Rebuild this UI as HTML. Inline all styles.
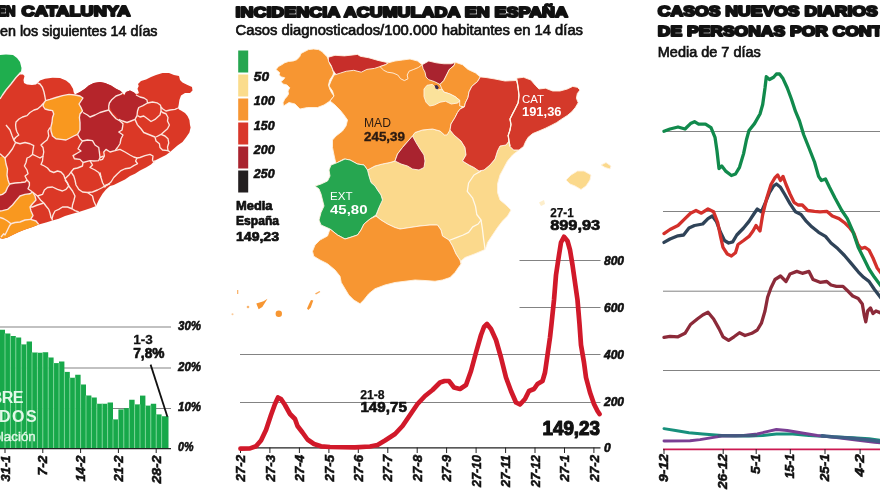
<!DOCTYPE html>
<html lang="es"><head><meta charset="utf-8"><title>Incidencia acumulada</title>
<style>
html,body{margin:0;padding:0;background:#fff;}
body{width:880px;height:495px;overflow:hidden;}
svg{display:block;font-family:"Liberation Sans",sans-serif;}
.t{font-weight:bold;fill:#111;stroke:#111;stroke-width:2.05px;stroke-linejoin:round;}
.s{fill:#111;stroke:#111;stroke-width:.65px;}
.ax{font-weight:bold;font-style:italic;fill:#111;stroke:#111;stroke-width:.6px;}
.xl{font-weight:bold;font-style:italic;fill:#111;stroke:#111;stroke-width:.55px;}
.b{font-weight:bold;}
.h{fill:#111;stroke:#111;stroke-width:.7px;stroke-linejoin:round;}
.wl{fill:none;stroke:#fce6de;stroke-width:1.35;stroke-linejoin:round;}
.wl2{fill:none;stroke:#fff8ea;stroke-width:1.3;stroke-linejoin:round;}
</style></head><body>
<svg width="880" height="495" viewBox="0 0 880 495">
<rect width="880" height="495" fill="#fff"/>

<g id="cat">
<polygon fill="#1fae4e" points="0,55 6,54.5 13,55 17,58 20,62 21.5,68 21,72 16,77.5 11,84 6,90 2.5,95 0,99"/>
<polygon fill="#db3826" points="0,99 2.5,95 6,90 11,84 16,77.5 20,74.5 23,74.4 24.5,76 23.5,80 24,83 27,84.5 32,85 36,84.5 37.5,83 40,80.6 45,78.75 52.5,77.75 60,78 66,80.6 70,83.75 73,88.75 73.75,92.5 75,94.4 80,92 85,88.75 88.75,85.6 93.75,83 100,82 105,83 111,85.6 116,88.75 120.6,91 122.5,93 124.4,95 126,92 130,90.6 134,92.5 136,94 138.75,92.5 137.5,88.75 138.75,86 138,84 141,81 146,79.4 151,77 156,75 162.5,73 169,73 174,75 179,76 180,80 182.5,82.5 187.5,85 192,87 192.5,90.6 190,93 185,93 181,95.6 179.4,100 178.75,104.4 178,108 179,109.5 181,110.6 185,113 187.5,116 189.4,120 190,125 190.6,127.5 189.4,132.5 186,137.5 182.5,142 177.5,145.6 173.75,148.75 170,152 166,155 160,158 155,160.6 151,164.4 146,167.5 140,170.6 135,173.75 130,176 125,179.4 118.75,182.5 113.75,185 110,186 106,189.4 102.5,193.75 98.75,200 96,206 91,208 85,210 78.75,212 72.5,213.75 65,216 58.75,218.75 52.5,220.6 46,222.5 38.75,224.4 32.5,227 25,229.4 18.75,232 12.5,235 7.5,237.5 2.5,238.75 0,238"/>
<polygon fill="#f9981f" points="43.75,103 45.6,100.6 50,99.4 56,97.5 62.5,95.6 69,94.4 75,95 80,96 83,98 81,101 79,104 81,107.5 82.5,111 80,114 79.4,117.5 80,122.5 80,127.5 80,130 77.5,134.4 73.75,136 70,138 66,140 61,139.4 56,138.75 52.5,136 51,131 50.8,127.5 52,122.5 52.5,117.5 53.75,114 52.5,110.6 48.75,110 45,109 43,106"/>
<polygon fill="#b5252b" points="75,94.4 80,92 85,88.75 88.75,85.6 93.75,83 100,82 105,83 111,85.6 116,88.75 120.6,91 122.5,93 120.6,94.4 116,96 112,99.4 109.4,103 108.75,106 108.75,110 105,111 100,112.5 95,115 90,117 87.5,115 83,112.5 82.5,111 81,107.5 79,104 81,101 83,98 80,96"/>
<polygon fill="#b5252b" points="109.4,103 112,99.4 116,96 120.6,94.4 124.4,95.6 126,92 130,90.6 134,92.5 136,95 140,97 144,98 147,100 147.5,103 143,105.6 138.75,107.5 137.5,111 137,115.6 135,119.4 131,121 127,122.5 122.5,121 118.75,119.4 116,115.6 112.5,112.5 110.6,108.75 108.75,106"/>
<polygon fill="#b5252b" points="83,112.5 87.5,115 90,117 95,115 100,112.5 105,111 108.75,110 110.6,112.5 112.5,115 116,118.75 120,121 123,123.75 122.5,127.5 122,130 118.75,132 123,135 121,138.75 120,143.75 117.5,147.5 115,150.6 110,152 106,149.4 103.75,152 100,151 99.4,152.5 98.75,147.5 95,145 92.5,140.6 87.5,140 82.5,141 80,138.75 77.5,134.4 80,130 80,122.5 79.4,117.5 80,114 82.5,111"/>
<polygon fill="#b5252b" points="82.5,141 87.5,140 92.5,140.6 95,145 98.75,147.5 99.4,152.5 100,157.5 98.75,160.6 93.75,161 90,160.6 83,162.5 80,159.4 76,158 75,156 77.5,153 81,151 78,148.75 80,145"/>
<polygon fill="#b5252b" points="10,183.75 15,182.5 21,183 27,182.5 29.4,185.6 28,188.75 32.5,192 30,193.75 25,194.4 20,196 16,200.6 12.5,205 7.5,209.4 2.5,210.6 0,211 0,195 2.5,194.4 5.6,192 7.5,187.5"/>
<polygon fill="#f9981f" points="0,157 2.5,156 5,158 6,164 7.5,169 7,175 8,180 9.4,184 10,183.75 7.5,187.5 5.6,192 2.5,194.4 0,195"/>
<polygon fill="#f9981f" points="0,211 2.5,210.6 7.5,209.4 12.5,205 16,200.6 20,196 25,194.4 30,193.75 32.5,192 35,196 36,200 32.5,203.75 30,207 31,211 33,215.6 30.6,219.4 36,221 38.75,224.4 32.5,227 25,229.4 18.75,232 12.5,235 7.5,237.5 2.5,238.75 0,238"/>
<polyline class="wl" points="21,72 16,77.5 11,84 6,90 2.5,95 0,99"/>
<polyline class="wl" points="37.5,83 40,84 42.5,87.5 44,92 45,97 45.6,100.6 43.75,103 41,106 37.5,109 34,110 30,112.5 27,115.6 22.5,117 19,119 16,122 15.6,125 16,129 17,132 18.75,135 15.6,137.5 13.75,140"/>
<polyline class="wl" points="45.6,100.6 50,99.4 56,97.5 62.5,95.6 69,94.4 75,95 80,96 83,98 81,101 79,104 81,107.5 82.5,111 80,114 79.4,117.5 80,122.5 80,130 77.5,134.4"/>
<polyline class="wl" points="43.75,103 43,106 45,109 48.75,110 52.5,110.6 53.75,114 52.5,117.5 52,122.5 50.8,127.5 51,131 52.5,136 56,138.75 61,139.4 66,140 70,138 73.75,136 77.5,134.4"/>
<polyline class="wl" points="83,112.5 87.5,115 90,117 95,115 100,112.5 105,111 108.75,110"/>
<polyline class="wl" points="122.5,93 120.6,94.4 116,96 112,99.4 109.4,103 108.75,106 108.75,110 110.6,112.5 112.5,115 116,118.75 120,121 123,123.75 122.5,127.5 122,130 118.75,132 123,135 121,138.75 120,143.75 117.5,147.5 115,150.6 110,152 106,149.4 103.75,152 104.4,156 102.5,159.4 100,160"/>
<polyline class="wl" points="136,95 140,97 144,98 147,100 147.5,103 143,105.6 138.75,107.5 137.5,111 137,115.6 135,119.4 131,121 127,122.5 122.5,121 118.75,119.4"/>
<polyline class="wl" points="136,94 138.75,92.5"/>
<polyline class="wl" points="147.5,103 152.5,102 157,102.8 160.3,105 161,107 162.5,108.75 166,111 170,110 175,109.4 178,108"/>
<polyline class="wl" points="161,107 161,111 160,115 158.75,116 155,119.4 151,121.5 147.5,118.75 143.75,116 140,117 137.5,115.6"/>
<polyline class="wl" points="161,111 162.5,112.5 166,113.75 168,117.5 167.5,121 169.4,125 167.5,128.75 163.75,132 161,134.4 165,136 168,138.75 168.75,143 167.5,147 168,150.6 170,152"/>
<polyline class="wl" points="137.5,125 141,128.75 143.75,132.5 150,135 155,137 156,141 159.4,143.75 160,147.5 162.5,150 168,150.6"/>
<polyline class="wl" points="161,134.4 156,137"/>
<polyline class="wl" points="137.5,125 135,119.4"/>
<polyline class="wl" points="115,150.6 120,149.4 125,152 130,155 133.75,157 137,158 140,157.5 145,155.6 150,154.4 153,156 152.5,160 153.75,162.5 155,160.6"/>
<polyline class="wl" points="137,158 135.6,161 137.5,163.75 133.75,165.6 130,168 125,168.75 121,170.6 117.5,173.75 113.75,177.5 111,182 107.5,185 103.75,187"/>
<polyline class="wl" points="100,172.5 101,177.5 102.5,182.5 105,187 106,185"/>
<polyline class="wl" points="6,125 10,130 12,135.6 13.75,140 15.6,142.5 12.5,148.75 8.75,153.75 5,158 2.5,156 0,153.75"/>
<polyline class="wl" points="15.6,142.5 20,143.75 25,142.5 30,143.75 33.75,145.6 33,150 32.5,154.4 29.4,157 27,158 26,162.5 24.4,166 27,170 28,173.75 25,176 27,180 29.4,182.5 29.4,185.6 28,188.75 32.5,192"/>
<polyline class="wl" points="32.5,154.4 36,156 40,158 43,156 43.75,152 43,147.5 41,145 43.75,142.5 47,140 48.75,136 48,131 50,127.5"/>
<polyline class="wl" points="43,156 42.5,161 41,164.4 44.4,166 47.5,168 50,171 53.75,172.5 57.5,171 61,172 63.75,175 65,178.75 67,182.5 68.75,186"/>
<polyline class="wl" points="77.5,134.4 80,138.75 82.5,141 80,145 78,148.75 81,151 77.5,153 73,155.6 74.4,158.75 80,159.4 83,162.5 82.5,166 77.5,168 73.75,168.75 71,172 69.4,174.4 65,178.75"/>
<polyline class="wl" points="82.5,141 87.5,140 92.5,140.6 95,145 98.75,147.5 99.4,152.5 100,157.5 98.75,160.6 93.75,161 90,160.6 83,162.5"/>
<polyline class="wl" points="100,157.5 103.75,156"/>
<polyline class="wl" points="90,160.6 92.5,165 90,167.5 95,170 98.75,172.5 101,177.5"/>
<polyline class="wl" points="5,158 6,164 7.5,169 7,175 8,180 9.4,184 15,183 21,182.5 25,182 27,180"/>
<polyline class="wl" points="10,183.75 7.5,187.5 5.6,192 2.5,194.4 0,195"/>
<polyline class="wl" points="32.5,192 30,193.75 25,194.4 20,196 16,200.6 12.5,205 7.5,209.4 2.5,210.6 0,211"/>
<polyline class="wl" points="32.5,192 35,196 36,200 32.5,203.75 30,207 31,211 33,215.6 30.6,219.4 36,221 38.75,224.4"/>
<polyline class="wl" points="30.6,219.4 25,220 20,222 15,222.5 11,223.75 7.5,221 3.75,218.75 0,217.5"/>
<polyline class="wl" points="11,223.75 9.4,226 7.5,230 5,235 3.75,233.75 1,237"/>
<polyline class="wl" points="32.5,192 37.5,196 42.5,194.4 44.4,190 47.5,187.5 52.5,187 57.5,189.4 62.5,191 66,189.4 68.75,186 67.5,183 65,180"/>
<polyline class="wl" points="68.75,186 72.5,191 75,196 73.75,201 72.5,205 72,208.75 75,210.6 78.75,212"/>
<polyline class="wl" points="72,208.75 67.5,207 62.5,207 58.75,209.4 55,211 53,215 52,218.75 52.5,220.6"/>
<polyline class="wl" points="37.5,196 41,200.6 43.75,203 46,206 48.75,209.4 50,213 51,217.5 52,218.75"/>
<polyline class="wl" points="43.75,203 37.5,205 32.5,207 30,207"/>
<polyline class="wl" points="75,180 76,185 78.75,189.4 82.5,192 87.5,192.5 92.5,196 93.75,201 96,206"/>
<polyline class="wl" points="87.5,192.5 92.5,192 97.5,190 102.5,187.5 106,185 110,183.75"/>
<polyline class="wl" points="75,180 73.75,176 71,172"/>
</g>
<g id="bars">
<line x1="0" x2="171" y1="327" y2="327" stroke="#7c7c7c" stroke-width="0.95"/>
<line x1="0" x2="171" y1="368" y2="368" stroke="#7c7c7c" stroke-width="0.95"/>
<line x1="0" x2="171" y1="408.5" y2="408.5" stroke="#7c7c7c" stroke-width="0.95"/>
<rect x="0.00" y="329.75" width="5.00" height="118.85" fill="#17a84a"/>
<rect x="5.00" y="333.5" width="5.40" height="115.10" fill="#17a84a"/>
<rect x="10.40" y="336" width="5.40" height="112.60" fill="#17a84a"/>
<rect x="15.80" y="337.5" width="5.40" height="111.10" fill="#17a84a"/>
<rect x="21.20" y="344.4" width="5.40" height="104.20" fill="#17a84a"/>
<rect x="26.60" y="341.5" width="5.40" height="107.10" fill="#17a84a"/>
<rect x="32.00" y="352.5" width="5.40" height="96.10" fill="#17a84a"/>
<rect x="37.40" y="352.75" width="5.40" height="95.85" fill="#17a84a"/>
<rect x="42.80" y="352.25" width="5.40" height="96.35" fill="#17a84a"/>
<rect x="48.20" y="357.5" width="5.40" height="91.10" fill="#17a84a"/>
<rect x="53.60" y="363.1" width="5.40" height="85.50" fill="#17a84a"/>
<rect x="59.00" y="361.5" width="5.40" height="87.10" fill="#17a84a"/>
<rect x="64.40" y="371.9" width="5.40" height="76.70" fill="#17a84a"/>
<rect x="69.80" y="377.75" width="5.40" height="70.85" fill="#17a84a"/>
<rect x="75.20" y="374.75" width="5.40" height="73.85" fill="#17a84a"/>
<rect x="80.60" y="384.5" width="5.40" height="64.10" fill="#17a84a"/>
<rect x="86.00" y="395.5" width="5.40" height="53.10" fill="#17a84a"/>
<rect x="91.40" y="397.5" width="5.40" height="51.10" fill="#17a84a"/>
<rect x="96.80" y="403.75" width="5.40" height="44.85" fill="#17a84a"/>
<rect x="102.20" y="403.75" width="5.40" height="44.85" fill="#17a84a"/>
<rect x="107.60" y="402.5" width="5.40" height="46.10" fill="#17a84a"/>
<rect x="113.00" y="419.4" width="5.40" height="29.20" fill="#17a84a"/>
<rect x="118.40" y="409.4" width="5.40" height="39.20" fill="#17a84a"/>
<rect x="123.80" y="408.1" width="5.40" height="40.50" fill="#17a84a"/>
<rect x="129.20" y="399.75" width="5.40" height="48.85" fill="#17a84a"/>
<rect x="134.60" y="404.4" width="5.40" height="44.20" fill="#17a84a"/>
<rect x="140.00" y="395.6" width="5.40" height="53.00" fill="#17a84a"/>
<rect x="145.40" y="405.6" width="5.40" height="43.00" fill="#17a84a"/>
<rect x="150.80" y="403.75" width="5.40" height="44.85" fill="#17a84a"/>
<rect x="156.20" y="414.4" width="5.40" height="34.20" fill="#17a84a"/>
<rect x="161.60" y="416.25" width="6.90" height="32.35" fill="#17a84a"/>
<line x1="5.00" x2="5.00" y1="333.5" y2="448" stroke="#7fd79a" stroke-width="0.9"/>
<line x1="10.40" x2="10.40" y1="336" y2="448" stroke="#7fd79a" stroke-width="0.9"/>
<line x1="15.80" x2="15.80" y1="337.5" y2="448" stroke="#7fd79a" stroke-width="0.9"/>
<line x1="21.20" x2="21.20" y1="344.4" y2="448" stroke="#7fd79a" stroke-width="0.9"/>
<line x1="26.60" x2="26.60" y1="344.4" y2="448" stroke="#7fd79a" stroke-width="0.9"/>
<line x1="32.00" x2="32.00" y1="352.5" y2="448" stroke="#7fd79a" stroke-width="0.9"/>
<line x1="37.40" x2="37.40" y1="352.75" y2="448" stroke="#7fd79a" stroke-width="0.9"/>
<line x1="42.80" x2="42.80" y1="352.75" y2="448" stroke="#7fd79a" stroke-width="0.9"/>
<line x1="48.20" x2="48.20" y1="357.5" y2="448" stroke="#7fd79a" stroke-width="0.9"/>
<line x1="53.60" x2="53.60" y1="363.1" y2="448" stroke="#7fd79a" stroke-width="0.9"/>
<line x1="59.00" x2="59.00" y1="363.1" y2="448" stroke="#7fd79a" stroke-width="0.9"/>
<line x1="64.40" x2="64.40" y1="371.9" y2="448" stroke="#7fd79a" stroke-width="0.9"/>
<line x1="69.80" x2="69.80" y1="377.75" y2="448" stroke="#7fd79a" stroke-width="0.9"/>
<line x1="75.20" x2="75.20" y1="377.75" y2="448" stroke="#7fd79a" stroke-width="0.9"/>
<line x1="80.60" x2="80.60" y1="384.5" y2="448" stroke="#7fd79a" stroke-width="0.9"/>
<line x1="86.00" x2="86.00" y1="395.5" y2="448" stroke="#7fd79a" stroke-width="0.9"/>
<line x1="91.40" x2="91.40" y1="397.5" y2="448" stroke="#7fd79a" stroke-width="0.9"/>
<line x1="96.80" x2="96.80" y1="403.75" y2="448" stroke="#7fd79a" stroke-width="0.9"/>
<line x1="102.20" x2="102.20" y1="403.75" y2="448" stroke="#7fd79a" stroke-width="0.9"/>
<line x1="107.60" x2="107.60" y1="403.75" y2="448" stroke="#7fd79a" stroke-width="0.9"/>
<line x1="113.00" x2="113.00" y1="419.4" y2="448" stroke="#7fd79a" stroke-width="0.9"/>
<line x1="118.40" x2="118.40" y1="419.4" y2="448" stroke="#7fd79a" stroke-width="0.9"/>
<line x1="123.80" x2="123.80" y1="409.4" y2="448" stroke="#7fd79a" stroke-width="0.9"/>
<line x1="129.20" x2="129.20" y1="408.1" y2="448" stroke="#7fd79a" stroke-width="0.9"/>
<line x1="134.60" x2="134.60" y1="404.4" y2="448" stroke="#7fd79a" stroke-width="0.9"/>
<line x1="140.00" x2="140.00" y1="404.4" y2="448" stroke="#7fd79a" stroke-width="0.9"/>
<line x1="145.40" x2="145.40" y1="405.6" y2="448" stroke="#7fd79a" stroke-width="0.9"/>
<line x1="150.80" x2="150.80" y1="405.6" y2="448" stroke="#7fd79a" stroke-width="0.9"/>
<line x1="156.20" x2="156.20" y1="414.4" y2="448" stroke="#7fd79a" stroke-width="0.9"/>
<line x1="161.60" x2="161.60" y1="416.25" y2="448" stroke="#7fd79a" stroke-width="0.9"/>
<line x1="0" x2="171" y1="448.6" y2="448.6" stroke="#222" stroke-width="1.2"/>
<line x1="5" x2="5" y1="448" y2="453" stroke="#222" stroke-width="1"/>
<line x1="42.8" x2="42.8" y1="448" y2="453" stroke="#222" stroke-width="1"/>
<line x1="80.6" x2="80.6" y1="448" y2="453" stroke="#222" stroke-width="1"/>
<line x1="118.4" x2="118.4" y1="448" y2="453" stroke="#222" stroke-width="1"/>
<line x1="156.2" x2="156.2" y1="448" y2="453" stroke="#222" stroke-width="1"/>
</g>
<g id="spain" stroke="#fff3e2" stroke-width=".9" stroke-linejoin="round">
<polygon fill="#fbd98c" points="412.5,136 415,132.5 422.5,130 432.5,129 440,131 444.5,135 450,130 454,135 461,141 465,147.5 466,155 462.5,161 469,165 474,167.5 479,171 484,170 490,165 495,159 497.5,151 500,146 506,145 509,141 510,146.4 513.6,150 519,150 512.5,155 507.5,161 504,167.5 500,175 497.5,184 497.5,192.5 500,200 506,205 511,210 507.5,216 502.5,221 497.5,227.5 492.5,235 487.5,242.5 486.5,246 485,249.5 475,253.75 465,257.5 461,261 461,264 460,260 456,254 452.5,246 449,240 442.5,236 441,230 437.5,225 430,225 420,226 410,227.5 400,229 395,227.5 387.5,224 381,220 376,216 379,207.5 381,200 382.5,200 381,195 377.5,190 375,186 371,182.5 369,176 367.5,170 375,166 382.5,164 390,162.5 395,161"/>
<polygon fill="#f79632" points="276,69.6 278.5,66.5 282,64.6 284.75,62.75 288.5,61.5 293.5,60.9 297,59.6 299.75,56.5 301,53.4 304.75,51.5 308.5,49.6 313.5,49 318.5,49.6 322,51.5 324.75,54.6 327,56.5 328.5,60 329.75,64 332,67.75 333.5,72.75 333,75 329.75,80 328.5,85 329.75,89 331.6,92.75 334,96 330,101 324,105 317.5,107.5 307.5,107.5 300,109 295,104 289,102.5 283.5,106 283,102.75 284.75,99 287,96.5 288.5,94 288,91 289.75,87.75 287,85 283,84 281,81.5 283,80 284.75,77.75 281.6,77 279,75 279.75,72.75"/>
<polygon fill="#f79632" points="336,74.5 345,66 385,64.5 410,62 422.2,64.7 430,66 445,70 455,96 461,103 462,108 460,109 457.5,112.5 455,117.5 451,124 450,130 447,135 444.5,135 440,131 432.5,129 422.5,130 415,132.5 412.5,136 409,140 402.5,147.5 397.5,154 395,161 390,162.5 382.5,164 375,166 367.5,170 364,165 357.5,164 350,160 344,159 337.5,162.5 336,164 334,155 332.5,147.5 332.5,140 336,136 342.5,131 346,126 347.5,120 344,115 340,110 335,105 330,101 334,96 332.5,91 329,86 331,81 334,75"/>
<polygon fill="#c72e2a" points="328.4,57.2 335,55.3 344.4,55.9 357.5,54.4 360.3,56.25 368.75,57.75 378,60.4 388.4,62.8 385.6,64.7 380,66.6 374.4,68.4 366.9,69.4 361.25,72.2 353.75,70.3 346.25,71.25 340.6,73 336,74.5 333,70.3 331.25,65.6 328.4,61"/>
<polygon fill="#f79632" points="388.4,62.8 395,61 402.5,60 410,59 417.5,61 422.2,64.7 418.4,67.5 413.75,69.4 409,71.25 407.2,75 408,78.75 404.4,80.6 400.6,78.75 397.8,75 393,73 387.5,72.2 383.75,70.3 380,66.6 385.6,64.7"/>
<polygon fill="#a9232f" points="422.2,64.7 428.75,61 436.25,62.8 443.75,63.75 451.25,63.75 455.4,62.25 454,65.6 449.4,69.4 446.6,75 443.75,80.6 440,84.4 434.4,81.6 428.75,79.7 426,77 425,72.2 423,68.4"/>
<polygon fill="#f79632" points="455.4,62.25 462.5,64.7 468,69.4 475.6,73 480.3,76.9 477.5,81.6 471.9,86.25 469,91.9 468,97.5 465.3,103 464.4,106.9 459.7,106 459.7,100.3 455,96.6 449.4,93.75 443.75,92 441.9,89 440,84.4 443.75,80.6 446.6,75 449.4,69.4 454,65.6"/>
<polygon fill="#fbe29b" points="424,89 427,85.3 432.5,84.4 438,90 441.9,89 443.75,92 449.4,93.75 455,96.6 459.7,100.3 457.8,103 451.25,104 445.6,101.25 440,102.2 434.4,105 429.7,106 426,102.2 424,96.6"/>
<polygon fill="#d4392a" points="480.3,76.9 486,77.5 495,79 505,81 516.4,80.5 517.3,82.7 518.2,88.2 519,95.5 518.2,102.7 515.5,108.2 512.7,113.6 510,119 511,124.5 510,130 508.2,135.5 509,141 506,145 500,146 497.5,151 495,159 490,165 484,170 479,171 474,167.5 469,165 462.5,161 466,155 465,147.5 461,141 454,135 450,130 451,124 455,117.5 457.5,112.5 460,109 464.4,106.9 465.3,103 468,97.5 469,91.9 471.9,86.25 477.5,81.6"/>
<polygon fill="#d4392a" points="516.4,78.2 523.6,77.3 530.9,80 535.5,85.5 539,89 545.5,88.2 552.7,91 560,91 567.3,89 572.7,86.4 577.3,87.3 580,90 577.3,93.6 576.4,98.2 578.2,102.7 575.5,107.3 571.8,111.8 567.3,115.5 561.8,119 556.4,122.7 551,125.5 545.5,128.2 539,131 532.7,133.6 528.2,137.3 525.5,141.8 523.6,146.4 519,150 513.6,150 510,146.4 509,141 508.2,135.5 510,130 511,124.5 510,119 512.7,113.6 515.5,108.2 518.2,102.7 519,95.5 518.2,88.2 517.3,82.7"/>
<polygon fill="#3a2a4f" stroke="none" points="434.5,85.5 437,85 438.8,87.5 437.5,89.5 435.5,88.5"/>
<polygon fill="#a9232f" points="412.5,136 416,142.5 420,149 424,155 425,161 424,167.5 419,170 412.5,169 407.5,166 401,164 395,161 397.5,154 402.5,147.5 409,140"/>
<polygon fill="#26a650" points="345,159 350,160 357.5,164 364,165 367.5,170 369,176 371,182.5 375,186 377.5,190 381,195 382.5,200 379,207.5 376,215 370,219 364,224 361,230 357.5,235 350,237.5 345,239 337.5,235 330,229 321,225 319,220 321,212.5 324,206 322.5,200 321,194 319,189 315,186 321,184 327.5,181 330,176 329,170 331,165 337.5,162.5"/>
<polygon fill="#f79632" points="312.5,251.25 315,245 320,240 327.5,236 330,229 337.5,235 345,239 350,237.5 357.5,235 361,230 364,224 370,219 376,216 381,220 387.5,224 395,227.5 400,229 410,227.5 420,226 430,225 437.5,225 441,230 442.5,236 449,240 452.5,246 456,254 460,260 461,264 458.75,267 455,272.5 450,277.5 442.5,280 435,281.25 425,280.5 415,280 405,281.25 395,282.5 385,285 375,288.75 368.75,293.75 363.75,300 360,303.75 353.75,300 348.75,295 345,288.75 341.25,282.5 340,276.25 335,270 327.5,263.75 320,260 313.75,256.25"/>
<polyline class="wl2" points="481,171 474,175 468.6,183 467.3,191.4 472.7,198.2 475.5,206.4 476.8,214.5 481,220 478.2,224 472.7,226.8 468.6,232.3 463.2,235 456.4,237.7 449,240.5"/>
<polyline class="wl2" points="481,220 482.3,228.2 483.6,239 484.5,245 485,249.5"/>
<polyline class="wl2" points="516.4,78.2 517.3,82.7 518.2,88.2 519,95.5 518.2,102.7 515.5,108.2 512.7,113.6 510,119 511,124.5 510,130 508.2,135.5 509,141 510,146.4"/>
<polygon fill="#fbd98c" points="566,180 571,175 577.5,171 584,171 591,175 590,180 586,186 581,189.5 575,186 570,184"/>
<polygon fill="#fbd98c" points="601,165 606,162.5 611,166 610,169 605,167.5"/>
<polygon fill="#fbd98c" opacity=".45" stroke="none" points="539,202.5 544,200 545,204 541,206"/>
<g fill="#f79632" stroke="none"><rect x="237" y="290" width="1.3" height="4" opacity=".7"/><polygon points="256.3,303.6 258.6,309.2 262.3,307 267.5,298.8 263.5,301.3"/><circle cx="278.8" cy="313.8" r="3.2"/><polygon points="311,300 313.3,300.5 310.8,307.5 308.3,310 307,308.6 309,304"/><polygon points="315,293.5 319.5,291 320.3,292 316,294.5" opacity=".8"/><circle cx="248" cy="307" r="1.3" opacity=".7"/><circle cx="232.5" cy="314.3" r="1" opacity=".5"/></g>
<rect x="238.2" y="50.5" width="10" height="22" fill="#26a650" stroke="none"/>
<rect x="238.2" y="74.5" width="10" height="22" fill="#fbdc8c" stroke="none"/>
<rect x="238.2" y="98.5" width="10" height="22" fill="#f79632" stroke="none"/>
<rect x="238.2" y="122.5" width="10" height="22" fill="#d9372a" stroke="none"/>
<rect x="238.2" y="146.5" width="10" height="22" fill="#a9232f" stroke="none"/>
<rect x="238.2" y="170.5" width="10" height="22" fill="#231f20" stroke="none"/>
</g>
<g id="line">
<line x1="240" x2="600.5" y1="402.5" y2="402.5" stroke="#7c7c7c" stroke-width="0.95"/>
<line x1="240" x2="600.5" y1="354.5" y2="354.5" stroke="#7c7c7c" stroke-width="0.95"/>
<line x1="519.5" x2="600.5" y1="307.5" y2="307.5" stroke="#7c7c7c" stroke-width="0.95"/>
<line x1="519.5" x2="600.5" y1="260.5" y2="260.5" stroke="#7c7c7c" stroke-width="0.95"/>
<line x1="240" x2="600.5" y1="447.8" y2="447.8" stroke="#222" stroke-width="1.2"/>
<line x1="240.5" x2="240.5" y1="447.5" y2="453" stroke="#222" stroke-width="1"/>
<line x1="269.9" x2="269.9" y1="447.5" y2="453" stroke="#222" stroke-width="1"/>
<line x1="299.4" x2="299.4" y1="447.5" y2="453" stroke="#222" stroke-width="1"/>
<line x1="328.9" x2="328.9" y1="447.5" y2="453" stroke="#222" stroke-width="1"/>
<line x1="358.3" x2="358.3" y1="447.5" y2="453" stroke="#222" stroke-width="1"/>
<line x1="387.8" x2="387.8" y1="447.5" y2="453" stroke="#222" stroke-width="1"/>
<line x1="417.2" x2="417.2" y1="447.5" y2="453" stroke="#222" stroke-width="1"/>
<line x1="446.6" x2="446.6" y1="447.5" y2="453" stroke="#222" stroke-width="1"/>
<line x1="476.1" x2="476.1" y1="447.5" y2="453" stroke="#222" stroke-width="1"/>
<line x1="505.6" x2="505.6" y1="447.5" y2="453" stroke="#222" stroke-width="1"/>
<line x1="535.0" x2="535.0" y1="447.5" y2="453" stroke="#222" stroke-width="1"/>
<line x1="564.5" x2="564.5" y1="447.5" y2="453" stroke="#222" stroke-width="1"/>
<line x1="593.9" x2="593.9" y1="447.5" y2="453" stroke="#222" stroke-width="1"/>
<polyline fill="none" stroke="#d1192a" stroke-width="4.7" stroke-linejoin="round" stroke-linecap="round" points="240.5,448.6 250,448.4 256,446.3 261,440.5 266,430 271,415 275,404 278,397.5 281,399 285,405 290,414 295,419 297.5,426 302.5,432.5 307.5,439.5 314,444 321,446.3 330,447 355,447.3 370,446.5 377.5,445 385,440.5 395,434 402.5,426 410,415 417.5,404 425,396 432.5,390 440,382.5 444.5,381 449,381 454,387.5 460,389 466,385 471,371 476,352.5 481,335 484,327 487,324 491,329 496,340 501,357.5 506,377.5 511,391 516,402.5 520,404.5 525,399 529,391 534,389 537.5,384 542.5,381 545,372.5 547.5,355 550,337.5 551.5,324 554,300 556,275 559,255 561,242.5 564,236.8 567.5,241 570,250 572.5,265 575,282.5 577.5,300 579.5,324 581,345 584,362.5 586,377.5 590,392.5 594,404 597.5,411 599.5,414"/>
</g>
<g id="right">
<line x1="663" x2="880" y1="131.5" y2="131.5" stroke="#7c7c7c" stroke-width="0.95"/>
<line x1="663" x2="880" y1="211.5" y2="211.5" stroke="#7c7c7c" stroke-width="0.95"/>
<line x1="663" x2="880" y1="291.2" y2="291.2" stroke="#7c7c7c" stroke-width="0.95"/>
<line x1="663" x2="880" y1="370.5" y2="370.5" stroke="#7c7c7c" stroke-width="0.95"/>
<polyline fill="none" stroke="#8c2a39" stroke-width="3.3" stroke-linejoin="round" stroke-linecap="round" points="664,337.4 670,336.3 678,336.8 685,333.3 690.5,324.5 697.3,319 702.7,315 708,312.3 713.6,319 719,328.6 723,336.8 728.6,340.4 734,336.8 739.5,332.7 745,335.5 751.8,333.3 757.3,330 761.4,323.2 765,311 767.6,297.3 771,287.7 775,279.5 780.5,276 786,281.5 790,274 796.8,271.4 802.3,273.3 809,271.4 813,279.5 820,282.3 826.8,281.5 831,285 836.4,286.4 843,286.4 848.6,291.8 852.7,296 858.2,298.6 862.3,304 864.2,315 865.8,321.8 867.7,311 870.5,308 873,313.6 876,311 881,313"/>
<polyline fill="none" stroke="#2f4358" stroke-width="3.3" stroke-linejoin="round" stroke-linecap="round" points="664,242.4 670,239 678,235.8 683.6,235 689,228 694.5,225.5 702.7,224 708,218.6 712.3,216 716.4,221.4 720.5,232.3 724.5,240.5 728.6,243 732.7,241.8 736.8,235 743.6,228 749,221.4 754.5,213 757.3,209 761.4,211.8 765.5,202.3 769.5,192.7 773.6,186 776.4,184 780.5,187.3 784.5,194 790,203.6 795.5,211.8 801,214.5 806.4,221.4 811.8,226.8 818.6,232.3 825.5,236.4 831,243 837.7,248.6 844.5,255.5 851.4,263.6 858.2,271.8 863.6,277.3 869,281.4 874.5,289.5 881,298"/>
<polyline fill="none" stroke="#d3302b" stroke-width="3.3" stroke-linejoin="round" stroke-linecap="round" points="664,233.6 670,229.5 678,225.5 685,218.6 690.5,213.2 696,210.5 701.4,213.2 708,209 713.6,211.8 717.7,222.7 720.5,236.4 723,247.3 727.3,254 731.4,256 735.5,252.7 738,244.5 743.6,240.5 749,236.4 753,231 756,225.5 760,231 762.7,214.5 766.8,198 771,184.5 775,177.7 777.7,175 780.5,180.5 783,176.4 786,184.5 790,194 794,202.3 798,205 802.3,205 807.7,210.5 814.5,211.3 820,211.8 826.8,211.3 832.3,216 839,218.6 844.5,222.7 850,228.2 854,233.6 858,244.5 861,248.6 865,247.3 869,250 873,258 877,267.7 881,273"/>
<polyline fill="none" stroke="#118a4c" stroke-width="3.3" stroke-linejoin="round" stroke-linecap="round" points="664,131.3 670,129 678,127 685,129 690.5,123.6 694.5,121.7 698.6,124.2 705.5,124.2 711,127.7 715,137.3 717,151 719,168.6 721.8,166 726,171.4 731.4,175.5 735.5,174 739.5,167.3 743.6,153.6 746.4,140 749,130.5 754.5,123.6 760,114 762.7,104.5 765,88 766.3,76.7 769.5,79.5 773.6,77.3 776.4,74 779.6,74 783,78.6 787.3,88 791.4,99 795.5,111.4 799.5,121 803.6,134.5 809,148 814.5,162 818.6,176.4 821.4,180.5 825.5,179 829.5,187.3 835,198 841.8,210.5 847.3,218.6 852.7,231 858.2,247.3 863.6,258 869,269 874.5,277.3 881,286"/>
<polyline fill="none" stroke="#17907c" stroke-width="2.9" stroke-linejoin="round" stroke-linecap="round" points="664,428.6 675.5,430.5 689,432.7 702.7,434 721.8,435.5 749,436 762.7,435.5 776.4,434 792.7,434 809,435.5 831,436.8 852.7,437.6 869,438.7 881,440.4"/>
<polyline fill="none" stroke="#7a3f94" stroke-width="2.9" stroke-linejoin="round" stroke-linecap="round" points="664,441 690,440.8 700,439.6 712,437.6 721.8,436 743.6,435.5 757.3,434 768,431.4 776.4,429.5 787.3,430.5 803.6,433.3 817.3,435.5 836.4,437.6 858.2,440.4 874.5,442.3 881,443"/>
<polyline fill="none" stroke="#43587f" stroke-width="3.2" stroke-linejoin="round" stroke-linecap="round" points="719,435.7 735,435.8 756,435.4"/>
<polyline fill="none" stroke="#3d5f85" stroke-width="3.4" stroke-linejoin="round" stroke-linecap="round" points="822,435.8 834,436.9 852,438.3 869,440 881,441.6"/>
<line x1="663" x2="880" y1="449.3" y2="449.3" stroke="#cc1a52" stroke-width="1.7"/>
<line x1="664" x2="664" y1="449" y2="454" stroke="#222" stroke-width="1"/>
<line x1="723.2" x2="723.2" y1="449" y2="454" stroke="#222" stroke-width="1"/>
<line x1="756.2" x2="756.2" y1="449" y2="454" stroke="#222" stroke-width="1"/>
<line x1="790.3" x2="790.3" y1="449" y2="454" stroke="#222" stroke-width="1"/>
<line x1="825" x2="825" y1="449" y2="454" stroke="#222" stroke-width="1"/>
<line x1="860.1" x2="860.1" y1="449" y2="454" stroke="#222" stroke-width="1"/>
</g>
<g id="text">
<text class="t" x="-48" y="16.4" font-size="15.4" textLength="63.5" lengthAdjust="spacingAndGlyphs">COVID EN</text>
<text class="t" x="21.5" y="16.4" font-size="15.4" textLength="109" lengthAdjust="spacingAndGlyphs">CATALUNYA</text>
<text class="s" x="-208.4" y="35.6" font-size="14" textLength="365.9" lengthAdjust="spacingAndGlyphs">Riesgo de rebrote por comarcas en los siguientes 14 días</text>
<text class="t" x="235.5" y="16.6" font-size="15.4" textLength="332.5" lengthAdjust="spacingAndGlyphs">INCIDENCIA ACUMULADA EN ESPAÑA</text>
<text class="s" x="235.5" y="35.2" font-size="14" textLength="347.5" lengthAdjust="spacingAndGlyphs">Casos diagnosticados/100.000 habitantes en 14 días</text>
<text class="t" x="657.8" y="16.2" font-size="15.4" textLength="220" lengthAdjust="spacingAndGlyphs">CASOS NUEVOS DIARIOS</text>
<text class="t" x="657.8" y="36" font-size="15.4" textLength="268" lengthAdjust="spacingAndGlyphs">DE PERSONAS POR CONTAGIO</text>
<text class="s" x="657.8" y="57" font-size="14" textLength="103" lengthAdjust="spacingAndGlyphs">Media de 7 días</text>
<text class="ax" x="253.8" y="81.35" font-size="13" stroke="#111" stroke-width=".35" textLength="15.2" lengthAdjust="spacingAndGlyphs">50</text>
<text class="ax" x="253.8" y="105.35" font-size="13" stroke="#111" stroke-width=".35" textLength="20.8" lengthAdjust="spacingAndGlyphs">100</text>
<text class="ax" x="253.8" y="129.6" font-size="13" stroke="#111" stroke-width=".35" textLength="20.8" lengthAdjust="spacingAndGlyphs">150</text>
<text class="ax" x="253.8" y="153.6" font-size="13" stroke="#111" stroke-width=".35" textLength="20.8" lengthAdjust="spacingAndGlyphs">200</text>
<text class="ax" x="253.8" y="178.35" font-size="13" stroke="#111" stroke-width=".35" textLength="20.8" lengthAdjust="spacingAndGlyphs">250</text>
<text class="b h" x="236" y="210" font-size="12.5" textLength="36.5" lengthAdjust="spacingAndGlyphs">Media</text>
<text class="b h" x="236" y="225" font-size="12.5" textLength="43" lengthAdjust="spacingAndGlyphs">España</text>
<text class="b h" x="236" y="240.5" font-size="12.5" textLength="43" lengthAdjust="spacingAndGlyphs">149,23</text>
<text x="364" y="127" font-size="12.5" fill="#2b1b12" textLength="27" lengthAdjust="spacingAndGlyphs">MAD</text>
<text class="b" x="364" y="141" font-size="13.5" fill="#2b1b12" stroke="#2b1b12" stroke-width=".4" textLength="41" lengthAdjust="spacingAndGlyphs">245,39</text>
<text x="330" y="200" font-size="11" fill="#fff" textLength="22.5" lengthAdjust="spacingAndGlyphs">EXT</text>
<text class="b" x="330" y="214" font-size="13.5" fill="#fff" textLength="37.5" lengthAdjust="spacingAndGlyphs">45,80</text>
<text x="522" y="102.5" font-size="11" fill="#fff" textLength="22" lengthAdjust="spacingAndGlyphs">CAT</text>
<text class="b" x="522" y="116" font-size="12.5" fill="#fff" textLength="39.5" lengthAdjust="spacingAndGlyphs">191,36</text>
<text class="b" x="550.2" y="216.8" font-size="13.4" fill="#111" stroke="#111" stroke-width=".25" textLength="23.5" lengthAdjust="spacingAndGlyphs">27-1</text>
<text class="b h" x="550.2" y="229.9" font-size="14.6" textLength="50" lengthAdjust="spacingAndGlyphs">899,93</text>
<text class="b" x="360.2" y="398.5" font-size="13.4" fill="#111" stroke="#111" stroke-width=".25" textLength="24.5" lengthAdjust="spacingAndGlyphs">21-8</text>
<text class="b h" x="360.4" y="412.3" font-size="14.4" textLength="46.5" lengthAdjust="spacingAndGlyphs">149,75</text>
<text class="b h" x="542.5" y="435" font-size="19.5" style="stroke-width:1.2px" textLength="57.5" lengthAdjust="spacingAndGlyphs">149,23</text>
<text class="ax" x="604" y="264.8" font-size="12">800</text>
<text class="ax" x="604" y="311.8" font-size="12">600</text>
<text class="ax" x="604" y="358.8" font-size="12">400</text>
<text class="ax" x="604" y="406.3" font-size="12">200</text>
<text class="ax" x="604" y="451.8" font-size="12">0</text>
<text class="xl" transform="translate(245.1,455) rotate(-90)" text-anchor="end" font-size="13" textLength="26.5" lengthAdjust="spacingAndGlyphs">27-2</text>
<text class="xl" transform="translate(274.6,455) rotate(-90)" text-anchor="end" font-size="13" textLength="26.5" lengthAdjust="spacingAndGlyphs">27-3</text>
<text class="xl" transform="translate(304.0,455) rotate(-90)" text-anchor="end" font-size="13" textLength="26.5" lengthAdjust="spacingAndGlyphs">27-4</text>
<text class="xl" transform="translate(333.5,455) rotate(-90)" text-anchor="end" font-size="13" textLength="26.5" lengthAdjust="spacingAndGlyphs">27-5</text>
<text class="xl" transform="translate(362.9,455) rotate(-90)" text-anchor="end" font-size="13" textLength="26.5" lengthAdjust="spacingAndGlyphs">27-6</text>
<text class="xl" transform="translate(392.4,455) rotate(-90)" text-anchor="end" font-size="13" textLength="26.5" lengthAdjust="spacingAndGlyphs">27-7</text>
<text class="xl" transform="translate(421.8,455) rotate(-90)" text-anchor="end" font-size="13" textLength="26.5" lengthAdjust="spacingAndGlyphs">27-8</text>
<text class="xl" transform="translate(451.2,455) rotate(-90)" text-anchor="end" font-size="13" textLength="26.5" lengthAdjust="spacingAndGlyphs">27-9</text>
<text class="xl" transform="translate(480.7,455) rotate(-90)" text-anchor="end" font-size="13" textLength="32" lengthAdjust="spacingAndGlyphs">27-10</text>
<text class="xl" transform="translate(510.2,455) rotate(-90)" text-anchor="end" font-size="13" textLength="32" lengthAdjust="spacingAndGlyphs">27-11</text>
<text class="xl" transform="translate(539.6,455) rotate(-90)" text-anchor="end" font-size="13" textLength="32" lengthAdjust="spacingAndGlyphs">27-12</text>
<text class="xl" transform="translate(569.1,455) rotate(-90)" text-anchor="end" font-size="13" textLength="26.5" lengthAdjust="spacingAndGlyphs">27-1</text>
<text class="xl" transform="translate(598.5,455) rotate(-90)" text-anchor="end" font-size="13" textLength="26.5" lengthAdjust="spacingAndGlyphs">27-2</text>
<text class="ax" x="178" y="329.6" font-size="12.5" stroke-width=".7" textLength="23" lengthAdjust="spacingAndGlyphs">30%</text>
<text class="ax" x="178" y="370.6" font-size="12.5" stroke-width=".7" textLength="23" lengthAdjust="spacingAndGlyphs">20%</text>
<text class="ax" x="178" y="411.1" font-size="12.5" stroke-width=".7" textLength="23" lengthAdjust="spacingAndGlyphs">10%</text>
<text class="ax" x="178" y="450.6" font-size="12.5" stroke-width=".7" textLength="15.5" lengthAdjust="spacingAndGlyphs">0%</text>
<text class="xl" transform="translate(9.6,455.5) rotate(-90)" text-anchor="end" font-size="12.5" textLength="26" lengthAdjust="spacingAndGlyphs">31-1</text>
<text class="xl" transform="translate(47.4,455.5) rotate(-90)" text-anchor="end" font-size="12.5" textLength="20" lengthAdjust="spacingAndGlyphs">7-2</text>
<text class="xl" transform="translate(85.2,455.5) rotate(-90)" text-anchor="end" font-size="12.5" textLength="26" lengthAdjust="spacingAndGlyphs">14-2</text>
<text class="xl" transform="translate(123.0,455.5) rotate(-90)" text-anchor="end" font-size="12.5" textLength="26" lengthAdjust="spacingAndGlyphs">21-2</text>
<text class="xl" transform="translate(160.8,455.5) rotate(-90)" text-anchor="end" font-size="12.5" textLength="28" lengthAdjust="spacingAndGlyphs">28-2</text>
<text class="b" x="133.2" y="344.3" font-size="13.2" fill="#111" stroke="#111" stroke-width=".3" textLength="19.5" lengthAdjust="spacingAndGlyphs">1-3</text>
<text class="b h" x="133.2" y="358.4" font-size="14.6" textLength="31.3" lengthAdjust="spacingAndGlyphs">7,8%</text>
<line x1="150.6" y1="364.6" x2="167.4" y2="416.8" stroke="#111" stroke-width="1.8"/>
<text class="b" x="23" y="403" text-anchor="end" font-size="16" fill="#e2f8e8" letter-spacing="-.5">% POSITIVOS SOBRE</text>
<text class="b" x="38" y="422.3" text-anchor="end" font-size="16" fill="#e2f8e8" letter-spacing="1.4">TESTADOS</text>
<text x="35.8" y="441.2" text-anchor="end" font-size="13" fill="#e2f8e8" stroke="#e2f8e8" stroke-width=".4" textLength="90" lengthAdjust="spacingAndGlyphs">de la población</text>
<text class="xl" transform="translate(667.9,454) rotate(-90)" text-anchor="end" font-size="13" textLength="28" lengthAdjust="spacingAndGlyphs">9-12</text>
<text class="xl" transform="translate(727.1,454) rotate(-90)" text-anchor="end" font-size="13" textLength="35" lengthAdjust="spacingAndGlyphs">26-12</text>
<text class="xl" transform="translate(760.1,454) rotate(-90)" text-anchor="end" font-size="13" textLength="20" lengthAdjust="spacingAndGlyphs">5-1</text>
<text class="xl" transform="translate(794.2,454) rotate(-90)" text-anchor="end" font-size="13" textLength="24.6" lengthAdjust="spacingAndGlyphs">15-1</text>
<text class="xl" transform="translate(828.9,454) rotate(-90)" text-anchor="end" font-size="13" textLength="27.3" lengthAdjust="spacingAndGlyphs">25-1</text>
<text class="xl" transform="translate(864.0,454) rotate(-90)" text-anchor="end" font-size="13" textLength="22.6" lengthAdjust="spacingAndGlyphs">4-2</text>
</g>
</svg></body></html>
